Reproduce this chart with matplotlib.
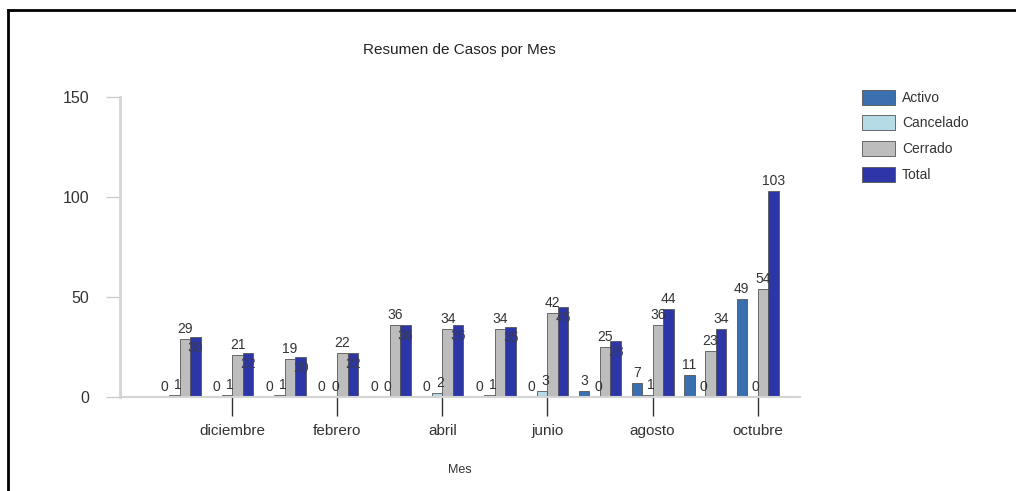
import matplotlib
matplotlib.use('Agg')
import matplotlib.pyplot as plt
import numpy as np
from matplotlib.lines import Line2D

plt.rcParams['font.family'] = ['Liberation Sans', 'DejaVu Sans']

meses = ['noviembre', 'diciembre', 'enero', 'febrero', 'marzo', 'abril',
         'mayo', 'junio', 'julio', 'agosto', 'septiembre', 'octubre']
activo = [0, 0, 0, 0, 0, 0, 0, 0, 3, 7, 11, 49]
cancelado = [1, 1, 1, 0, 0, 2, 1, 3, 0, 1, 0, 0]
cerrado = [29, 21, 19, 22, 36, 34, 34, 42, 25, 36, 23, 54]
total = [30, 22, 20, 22, 36, 36, 35, 45, 28, 44, 34, 103]

series = [('Activo', activo, '#3a6fb0'),
          ('Cancelado', cancelado, '#b4dbe6'),
          ('Cerrado', cerrado, '#bdbdbd'),
          ('Total', total, '#2c36a6')]

fig = plt.figure(figsize=(10.16, 4.91), dpi=100)
ax = fig.add_axes([0.118, 0.191, 0.669, 0.611])

x = np.arange(len(meses))
w = 0.2
for k, (name, vals, col) in enumerate(series):
    pos = x + (k - 1.5) * w
    ax.bar(pos, vals, width=w, color=col, edgecolor='#555555', linewidth=0.6, label=name)
    for xi, v in zip(pos, vals):
        if name == 'Total' and xi < 8.5:
            # el valor total queda dentro de la barra en los primeros meses
            ax.text(xi, v - 9, str(v), ha='center', va='bottom', fontsize=10, color='#3a3a5a')
        else:
            ax.text(xi + (0.06 if name == 'Cancelado' else 0), v + 1.5, str(v),
                    ha='center', va='bottom', fontsize=10, color='#333333')

ax.set_xlim(-1.14, 11.8)
ax.set_ylim(0, 150)
ax.set_yticks([0, 50, 100, 150])
ax.set_xticks(x[1::2])
ax.set_xticklabels(meses[1::2], fontsize=11, color='#333333')
ax.tick_params(axis='x', length=14, width=1, color='#333333', pad=5)
ax.tick_params(axis='y', length=10, width=1, color='#cccccc', labelsize=11.5,
               labelcolor='#333333', pad=12)
for s in ['top', 'right']:
    ax.spines[s].set_visible(False)
ax.spines['left'].set_color('#d4d4d4')
ax.spines['left'].set_linewidth(2)
ax.spines['bottom'].set_color('#d4d4d4')
ax.spines['bottom'].set_linewidth(1.5)

ax.set_title('Resumen de Casos por Mes', fontsize=11, color='#222222', pad=31)
ax.set_xlabel('Mes', fontsize=9, color='#333333', labelpad=19)

fig.legend(loc='upper left', bbox_to_anchor=(0.836, 0.843), frameon=False,
           fontsize=10, handlelength=2.4, handleheight=1.3, labelspacing=0.75,
           handletextpad=0.5, labelcolor='#333333')

# marco superior e izquierdo
fig.add_artist(Line2D([0.008, 1.0], [0.979, 0.979], color='black', linewidth=2,
                      transform=fig.transFigure))
fig.add_artist(Line2D([0.008, 0.008], [0.0, 0.979], color='black', linewidth=2,
                      transform=fig.transFigure))

fig.savefig('out.png', dpi=100)
